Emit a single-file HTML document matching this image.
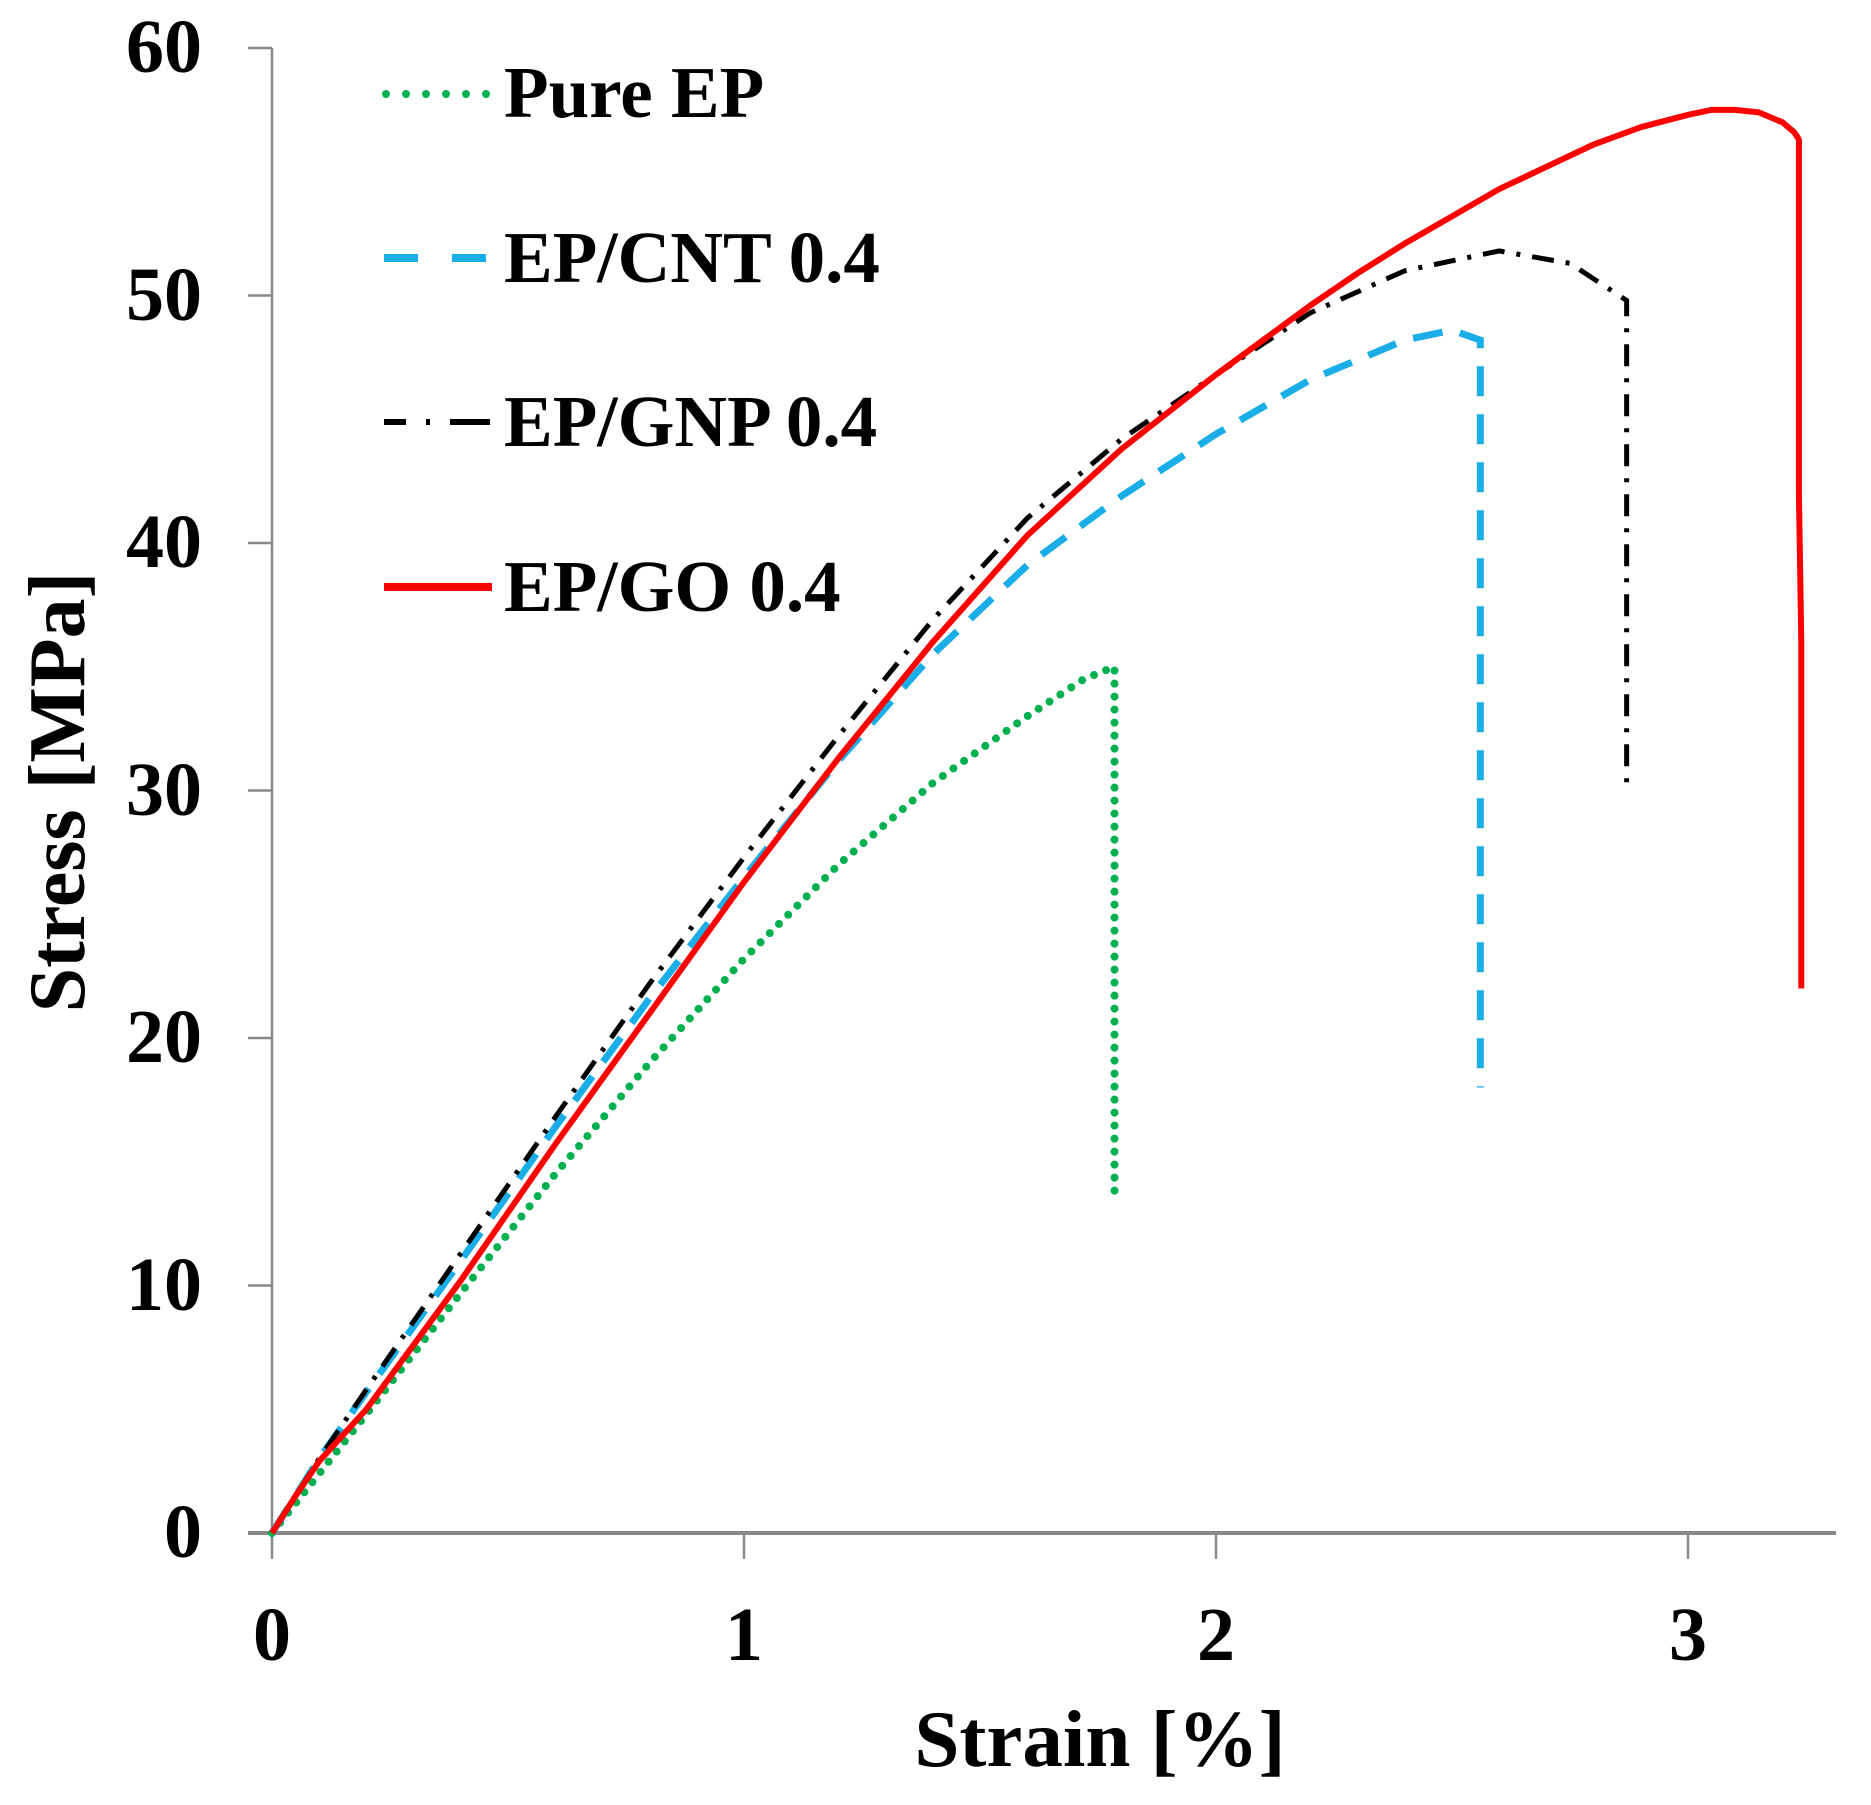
<!DOCTYPE html>
<html><head><meta charset="utf-8"><style>
html,body{margin:0;padding:0;background:#fff}
svg{display:block}
text{font-family:"Liberation Serif",serif;font-weight:bold;fill:#000}
</style></head><body>
<svg width="1871" height="1805" viewBox="0 0 1871 1805" xmlns="http://www.w3.org/2000/svg">
<g stroke="#888" stroke-width="2.5" fill="none">
<line x1="272" y1="48" x2="272" y2="1533"/>
<line x1="248" y1="1533" x2="1836" y2="1533" stroke-width="4"/>
<line x1="248" y1="48" x2="272" y2="48"/>
<line x1="248" y1="295.5" x2="272" y2="295.5"/>
<line x1="248" y1="543" x2="272" y2="543"/>
<line x1="248" y1="790.5" x2="272" y2="790.5"/>
<line x1="248" y1="1038" x2="272" y2="1038"/>
<line x1="248" y1="1285.5" x2="272" y2="1285.5"/>
<line x1="272" y1="1533" x2="272" y2="1559"/>
<line x1="744" y1="1533" x2="744" y2="1559"/>
<line x1="1216" y1="1533" x2="1216" y2="1559"/>
<line x1="1688" y1="1533" x2="1688" y2="1559"/>
</g>
<g font-size="76" text-anchor="end">
<text x="202" y="72">60</text>
<text x="202" y="320">50</text>
<text x="202" y="567">40</text>
<text x="202" y="815">30</text>
<text x="202" y="1062">20</text>
<text x="202" y="1310">10</text>
<text x="202" y="1557">0</text>
</g>
<g font-size="76" text-anchor="middle">
<text x="272" y="1660">0</text>
<text x="744" y="1660">1</text>
<text x="1216" y="1660">2</text>
<text x="1688" y="1660">3</text>
</g>
<text x="1100" y="1766" font-size="81" text-anchor="middle">Strain [%]</text>
<text transform="translate(84,792) rotate(-90)" font-size="80" text-anchor="middle">Stress [MPa]</text>
<g transform="translate(272,1533) scale(472,-24.75)" fill="none">
<polyline vector-effect="non-scaling-stroke" stroke="#00b050" stroke-width="8" stroke-linecap="round" stroke-dasharray="0 13"
 points="0,0 0.2,4.8 0.4,9.7 0.6,14.5 0.8,19 1,23.2 1.2,27 1.4,30.3 1.6,33 1.72,34.5 1.785,35 1.785,13.8"/>
<polyline vector-effect="non-scaling-stroke" stroke="#1aaee8" stroke-width="7" stroke-dasharray="30 18"
 points="0,0 0.1,3 0.2,5.7 0.4,11 0.6,16.4 0.8,21.6 1,26.5 1.2,31.2 1.4,35.5 1.6,39.1 1.8,41.9 2,44.4 2.2,46.6 2.4,48.2 2.5,48.6 2.56,48.2 2.56,18"/>
<polyline vector-effect="non-scaling-stroke" stroke="#000" stroke-width="5" stroke-dasharray="22 12 4 12"
 points="0,0 0.1,3 0.2,5.8 0.4,11.3 0.6,16.8 0.8,22.2 1,27.3 1.2,32.2 1.4,36.9 1.6,41 1.8,44.2 2,46.8 2.2,49.3 2.4,51 2.6,51.8 2.75,51.3 2.87,49.8 2.87,30"/>
<polyline vector-effect="non-scaling-stroke" stroke="#f00" stroke-width="6" stroke-linejoin="round"
 points="0,0 0.05,1.5 0.1,2.9 0.2,5 0.4,10.2 0.6,15.7 0.8,21 1,26.3 1.2,31.3 1.4,36 1.6,40.3 1.8,43.8 2,46.8 2.1,48.2 2.2,49.6 2.3,50.9 2.4,52.1 2.5,53.2 2.6,54.3 2.7,55.2 2.8,56.1 2.9,56.8 3,57.3 3.05,57.5 3.1,57.5 3.15,57.4 3.2,57 3.225,56.6 3.235,56.3 3.235,42 3.24,36 3.24,22"/>
</g>
<g fill="none">
<line x1="386" y1="94" x2="492" y2="94" stroke="#00b050" stroke-width="8" stroke-linecap="round" stroke-dasharray="0 20"/>
<line x1="384" y1="258" x2="492" y2="258" stroke="#1aaee8" stroke-width="8" stroke-dasharray="34 34"/>
<line x1="384" y1="422" x2="492" y2="422" stroke="#000" stroke-width="6" stroke-dasharray="22 20 4 20 40"/>
<line x1="384" y1="587" x2="492" y2="587" stroke="#f00" stroke-width="8"/>
</g>
<g font-size="73">
<text x="504" y="117">Pure EP</text>
<text x="504" y="282">EP/CNT 0.4</text>
<text x="504" y="446">EP/GNP 0.4</text>
<text x="504" y="611">EP/GO 0.4</text>
</g>
</svg>
</body></html>
